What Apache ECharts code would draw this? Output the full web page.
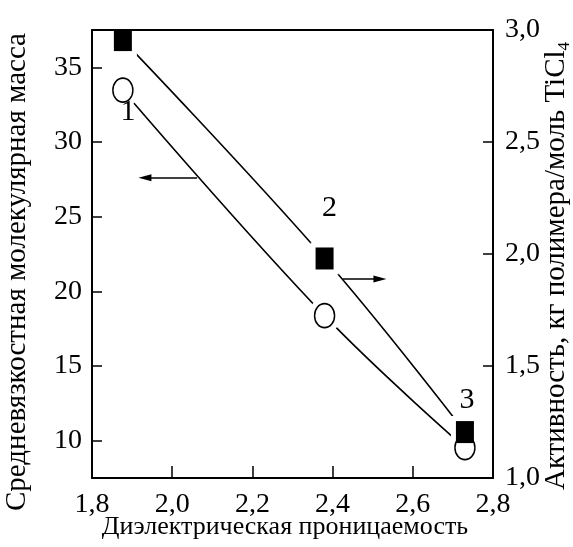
<!DOCTYPE html>
<html lang="ru">
<head>
    <meta charset="UTF-8">
    <title>Диэлектрическая проницаемость</title>
    <script src="https://cdn.jsdelivr.net/npm/echarts@6/dist/echarts.min.js"></script>
    <style>
        html, body {margin: 0; padding: 0; background: #fff;}
        #main {width: 573px; height: 547px;}
    </style>
</head>
<body>
<div id="main"></div>
<script>
    // данные
    var permittivity = [1.877, 2.380, 2.730];      // диэлектрическая проницаемость
    var molMass = [33.47, 18.37, 9.53];            // средневязкостная молекулярная масса (кружки)
    var activity = [2.955, 1.98, 1.205];           // активность (квадраты)
    var pointNames = ["1", "2", "3"];
    var massTicks = [10, 15, 20, 25, 30, 35];
    // стрелки: [x начала, x конца, y]
    var massArrow = [2.062, 1.932, 27.6];
    var activityArrow = [2.426, 2.518, 1.888];

    var FONT = "'Liberation Serif', 'Times New Roman', serif";
    function comma(v) {
        return v.toFixed(1).replace(".", ",");
    }

    var lineMass = permittivity.map(function (x, i) { return [x, molMass[i]]; });
    var lineAct = permittivity.map(function (x, i) { return [x, activity[i]]; });

    // подписи точек: 1 - под кружком, 2 и 3 - над квадратами
    var circleData = lineMass.map(function (p, i) {
        var d = {value: p};
        if (i === 0) {
            d.label = {show: true, formatter: pointNames[0], offset: [5, 22]};
        }
        return d;
    });
    var squareData = lineAct.map(function (p, i) {
        var d = {value: p};
        if (i === 1) d.label = {show: true, formatter: pointNames[1], offset: [5, -50]};
        if (i === 2) d.label = {show: true, formatter: pointNames[2], offset: [2, -32]};
        return d;
    });

    var labelStyle = {
        position: "inside",
        color: "#000",
        fontFamily: FONT,
        fontSize: 30
    };

    var MyChart = echarts.init(document.getElementById("main"));
    var option = {
        animation: false,
        backgroundColor: "#fff",
        grid: {left: 92, right: 80, top: 30, bottom: 69, outerBoundsMode: "none", containLabel: false},
        xAxis: [{
            type: "value",
            min: 1.8,
            max: 2.8,
            interval: 0.2,
            name: "Диэлектрическая проницаемость",
            nameLocation: "middle",
            nameGap: 36,
            nameMoveOverlap: false,
            nameTextStyle: {color: "#000", fontFamily: FONT, fontSize: 26, padding: [0, 15, 0, 0]},
            axisLine: {lineStyle: {color: "#000", width: 2}},
            axisTick: {inside: true, length: 12, lineStyle: {color: "#000", width: 1.5}},
            axisLabel: {color: "#000", fontFamily: FONT, fontSize: 28, margin: 13, formatter: comma},
            splitLine: {show: false}
        }, {
            type: "value",
            position: "top",
            min: 1.8,
            max: 2.8,
            z: 10,
            axisLine: {show: true, lineStyle: {color: "#000", width: 2}},
            axisTick: {show: false},
            axisLabel: {show: false},
            splitLine: {show: false}
        }],
        yAxis: [{
            type: "value",
            min: 7.5,
            max: 37.5,
            name: "Средневязкостная молекулярная масса",
            nameLocation: "middle",
            nameRotate: 90,
            nameGap: 60,
            nameMoveOverlap: false,
            nameTextStyle: {color: "#000", fontFamily: FONT, fontSize: 29, padding: [0, 36, 0, 0]},
            axisLine: {show: true, lineStyle: {color: "#000", width: 2}},
            axisTick: {inside: true, length: 10, customValues: massTicks, lineStyle: {color: "#000", width: 1.5}},
            axisLabel: {color: "#000", fontFamily: FONT, fontSize: 28, margin: 10, customValues: massTicks},
            splitLine: {show: false}
        }, {
            type: "value",
            position: "right",
            min: 1,
            max: 3,
            interval: 0.5,
            name: "{a|Активность, кг полимера/моль TiCl}{s|4}",
            nameLocation: "middle",
            nameRotate: 90,
            nameGap: 47,
            nameMoveOverlap: false,
            nameTextStyle: {
                color: "#000", fontFamily: FONT, fontSize: 29, padding: [0, 24, 0, 0],
                rich: {
                    a: {color: "#000", fontFamily: FONT, fontSize: 29},
                    s: {color: "#000", fontFamily: FONT, fontSize: 17, padding: [16, 0, 0, 0]}
                }
            },
            axisLine: {show: true, lineStyle: {color: "#000", width: 2}},
            axisTick: {inside: true, length: 10, lineStyle: {color: "#000", width: 1.5}},
            axisLabel: {color: "#000", fontFamily: FONT, fontSize: 28, margin: 12, formatter: comma},
            splitLine: {show: false}
        }],
        series: [{
            // кривая 1 с белыми "окнами" вокруг точек
            type: "line",
            yAxisIndex: 0,
            data: lineMass,
            smooth: 0.4,
            symbol: "circle",
            symbolSize: [32, 36],
            itemStyle: {color: "#fff", borderWidth: 0},
            lineStyle: {color: "#000", width: 1.6},
            z: 2
        }, {
            type: "line",
            yAxisIndex: 1,
            data: lineAct,
            smooth: 0.4,
            symbol: "rect",
            symbolSize: [28, 32],
            itemStyle: {color: "#fff", borderWidth: 0},
            lineStyle: {color: "#000", width: 1.6},
            z: 2
        }, {
            type: "scatter",
            yAxisIndex: 0,
            data: circleData,
            symbol: "circle",
            symbolSize: [20, 24],
            itemStyle: {color: "#fff", borderColor: "#000", borderWidth: 1.6, opacity: 1},
            label: labelStyle,
            markLine: {
                silent: true,
                symbol: ["none", "triangle"],
                symbolSize: [7, 13],
                label: {show: false},
                lineStyle: {color: "#000", width: 1.6, type: "solid"},
                data: [[{coord: [massArrow[0], massArrow[2]]}, {coord: [massArrow[1], massArrow[2]]}]]
            },
            z: 3
        }, {
            type: "scatter",
            yAxisIndex: 1,
            data: squareData,
            symbol: "rect",
            symbolSize: [18, 22],
            itemStyle: {color: "#000", opacity: 1},
            label: labelStyle,
            markLine: {
                silent: true,
                symbol: ["none", "triangle"],
                symbolSize: [7, 13],
                label: {show: false},
                lineStyle: {color: "#000", width: 1.6, type: "solid"},
                data: [[{coord: [activityArrow[0], activityArrow[2]]}, {coord: [activityArrow[1], activityArrow[2]]}]]
            },
            z: 4
        }]
    };
    MyChart.setOption(option);
</script>
</body>
</html>
